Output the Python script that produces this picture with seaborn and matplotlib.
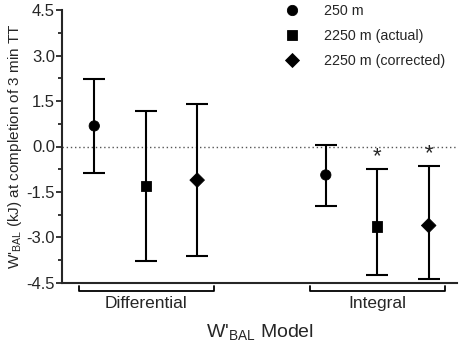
import numpy as np
import pandas as pd
import matplotlib
matplotlib.use("Agg")
import matplotlib.pyplot as plt
import matplotlib.transforms as mtransforms
from matplotlib.ticker import MultipleLocator, FormatStrFormatter
import seaborn as sns

# data
models = ["Differential", "Integral"]
conditions = ["250 m", "2250 m (actual)", "2250 m (corrected)"]
means = [0.68, -1.30, -1.11, -0.94, -2.64, -2.61]
upper = [2.22, 1.17, 1.41, 0.05, -0.73, -0.63]
lower = [-0.87, -3.79, -3.61, -1.96, -4.26, -4.38]
significant = [False, False, False, False, True, True]

positions = [0, 1, 2, 4.5, 5.5, 6.5]

df = pd.DataFrame({
    "pos": positions,
    "mean": means,
    "hi": upper,
    "lo": lower,
    "cond": conditions * 2,
    "model": [m for m in models for _ in conditions],
})

sns.set_style("ticks")
plt.rcParams["font.family"] = ["Liberation Sans", "DejaVu Sans"]
plt.rcParams["mathtext.default"] = "regular"
plt.rcParams["axes.unicode_minus"] = False

fig = plt.figure(figsize=(4.59, 3.42), dpi=100)
ax = fig.add_axes([62 / 459, 1 - 282.7 / 342, 395 / 459, 272.4 / 342])

# error bars
yerr = np.vstack([df["mean"] - df["lo"], df["hi"] - df["mean"]])
ax.errorbar(df["pos"], df["mean"], yerr=yerr, fmt="none", ecolor="black",
            elinewidth=1.5, capsize=8, capthick=1.5, zorder=2)

sns.scatterplot(data=df, x="pos", y="mean", style="cond", style_order=conditions,
                markers=["o", "s", "D"], color="black", edgecolor="black",
                s=55, ax=ax, zorder=3)

ax.axhline(0, color="#555555", linestyle=(0, (1, 2)), linewidth=1, zorder=1)

# significance stars
for p, h, sig in zip(df["pos"], df["hi"], significant):
    if sig:
        ax.annotate("*", (p, h), xytext=(0, 1), textcoords="offset points",
                    ha="center", va="bottom", fontsize=16)

ax.set_xlim(-0.627, 7.05)
ax.set_ylim(-4.5, 4.5)
ax.yaxis.set_major_locator(MultipleLocator(1.5))
ax.yaxis.set_minor_locator(MultipleLocator(0.75))
ax.yaxis.set_major_formatter(FormatStrFormatter("%.1f"))
ax.set_xticks([])
ax.tick_params(axis="y", which="major", length=4, width=1.3, labelsize=12, pad=1)
ax.tick_params(axis="y", which="minor", length=3, width=1.3)
for side in ["top", "right"]:
    ax.spines[side].set_visible(False)
for side in ["left", "bottom"]:
    ax.spines[side].set_linewidth(1.5)

ax.set_ylabel("W'$_{BAL}$ (kJ) at completion of 3 min TT", fontsize=11, labelpad=2)
ax.set_xlabel("W'$_{BAL}$ Model", fontsize=14, labelpad=28)

# group brackets under the axis
trans = mtransforms.blended_transform_factory(ax.transData, ax.transAxes)
for m in models:
    sub = df[df["model"] == m]
    x0 = sub["pos"].min() - 0.3
    x1 = sub["pos"].max() + 0.32
    ax.plot([x0, x0, x1, x1], [-0.012, -0.031, -0.031, -0.012], color="black",
            linewidth=1.3, transform=trans, clip_on=False)
    ax.text(sub["pos"].mean(), -0.075, m, transform=trans, ha="center",
            va="center", fontsize=12.5)

handles, labels = ax.get_legend_handles_labels()
ax.legend(handles, labels, loc="upper left", bbox_to_anchor=(0.545, 1.05),
          frameon=False, fontsize=10.3, handlelength=1, handletextpad=1.75,
          labelspacing=0.76, borderpad=0, markerscale=1)

fig.savefig("out.png", dpi=100)
